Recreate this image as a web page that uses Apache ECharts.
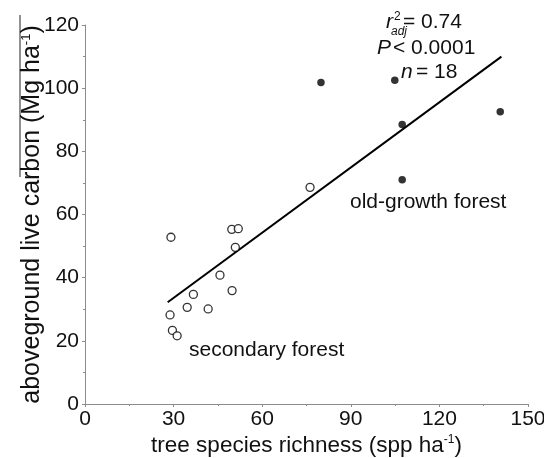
<!DOCTYPE html>
<html>
<head>
<meta charset="utf-8">
<script src="https://cdn.jsdelivr.net/npm/echarts@6/dist/echarts.min.js"></script>
<style>html,body{margin:0;padding:0;background:#fff}#c{width:544px;height:458px}</style>
</head>
<body>
<div id="c"></div>
<script>
// Secondary forest plots (open circles): [species richness, live carbon]
var secondaryForest = [
  [29.1, 52.8], [49.7, 55.3], [51.9, 55.5], [50.9, 49.6], [45.7, 40.8],
  [49.8, 35.9], [36.7, 34.7], [34.6, 30.6], [41.7, 30.1], [28.8, 28.2],
  [29.6, 23.3], [31.2, 21.6], [76.2, 68.6]
];
// Old-growth forest plots (filled dots)
var oldGrowthForest = [
  [79.9, 101.8], [104.9, 102.5], [107.4, 88.5], [140.6, 92.5], [107.4, 71.0]
];
// Regression line end points
var fitLine = [[28, 32.2], [141, 110.0]];
var xTicks = [0, 30, 60, 90, 120, 150];
var yTicks = [0, 20, 40, 60, 80, 100, 120];
var statsText = ['= 0.74', '< 0.0001', '= 18'];

var FONT = 'Liberation Sans';
var chart = echarts.init(document.getElementById('c'));
var axisCommon = {
  axisLine: {show: true, lineStyle: {color: '#8c8c8c', width: 1}},
  axisTick: {show: true, length: 3, lineStyle: {color: '#8c8c8c'}},
  minorTick: {show: true, splitNumber: 2, length: 2, lineStyle: {color: '#8c8c8c'}},
  splitLine: {show: false}
};
chart.setOption({
  animation: false,
  backgroundColor: '#fff',
  grid: {left: 85, right: 16, top: 25, bottom: 54, containLabel: false, outerBoundsMode: 'none'},
  xAxis: Object.assign({
    type: 'value', min: xTicks[0], max: xTicks[xTicks.length - 1], interval: 30,
    name: 'tree species richness (spp ha{sup|-1})',
    nameLocation: 'middle', nameGap: 30, nameMoveOverlap: false,
    nameTextStyle: {fontFamily: FONT, fontSize: 22.5, color: '#111',
      rich: {sup: {fontFamily: FONT, fontSize: 12, color: '#111', verticalAlign: 'top', padding: [0, 0, 10, 0]}}},
    axisLabel: {fontFamily: FONT, fontSize: 21, color: '#111', margin: 5}
  }, axisCommon),
  yAxis: Object.assign({
    type: 'value', min: yTicks[0], max: yTicks[yTicks.length - 1], interval: 20,
    name: 'aboveground live carbon (Mg ha{sup|-1})',
    nameLocation: 'middle', nameGap: 40, nameMoveOverlap: false,
    nameTextStyle: {fontFamily: FONT, fontSize: 25, color: '#111',
      rich: {sup: {fontFamily: FONT, fontSize: 13, color: '#111', verticalAlign: 'top', padding: [0, 0, 10, 0]}}},
    axisLabel: {fontFamily: FONT, fontSize: 21, color: '#111', margin: 6}
  }, axisCommon),
  series: [
    {type: 'line', data: fitLine, symbol: 'none', lineStyle: {color: '#000', width: 2}, z: 1},
    {type: 'scatter', data: secondaryForest, symbol: 'circle', symbolSize: 8,
     itemStyle: {color: '#fff', borderColor: '#000', borderWidth: 1.3}, z: 3},
    {type: 'scatter', data: oldGrowthForest, symbol: 'circle', symbolSize: 7.5,
     itemStyle: {color: '#000'}, z: 3}
  ],
  graphic: [
    {type: 'line', shape: {x1: 20, y1: 15, x2: 20, y2: 177}, style: {stroke: '#222', lineWidth: 1}},
    {type: 'text', left: 386, top: 12, style: {text: 'r', font: 'italic 21px "Liberation Sans"', fill: '#111'}},
    {type: 'text', left: 394, top: 11, style: {text: '2', font: '12px "Liberation Sans"', fill: '#111'}},
    {type: 'text', left: 391, top: 26, style: {text: 'adj', font: 'italic 12px "Liberation Sans"', fill: '#111'}},
    {type: 'text', left: 403, top: 12, style: {text: statsText[0], font: '21px "Liberation Sans"', fill: '#111'}},
    {type: 'text', left: 377, top: 38, style: {text: 'P', font: 'italic 21px "Liberation Sans"', fill: '#111'}},
    {type: 'text', left: 393, top: 38, style: {text: statsText[1], font: '21px "Liberation Sans"', fill: '#111'}},
    {type: 'text', left: 401, top: 62, style: {text: 'n', font: 'italic 21px "Liberation Sans"', fill: '#111'}},
    {type: 'text', left: 416, top: 62, style: {text: statsText[2], font: '21px "Liberation Sans"', fill: '#111'}},
    {type: 'text', left: 350, top: 192, style: {text: 'old-growth forest', font: '21px "Liberation Sans"', fill: '#111'}},
    {type: 'text', left: 189, top: 340, style: {text: 'secondary forest', font: '21px "Liberation Sans"', fill: '#111'}}
  ]
});
</script>
</body>
</html>
